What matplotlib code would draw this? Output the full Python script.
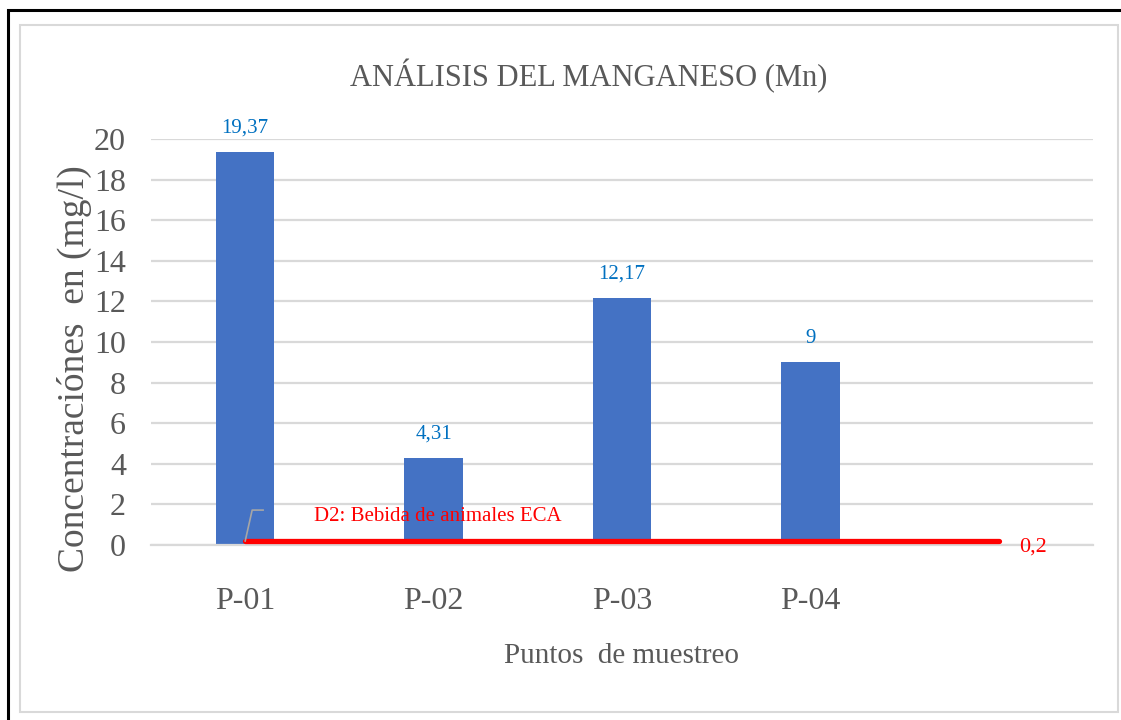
import numpy as np
import matplotlib.pyplot as plt
from matplotlib.patches import Rectangle

plt.rcParams['font.family'] = ['Liberation Serif', 'DejaVu Serif']

categorias = ['P-01', 'P-02', 'P-03', 'P-04', '']
valores = [19.37, 4.31, 12.17, 9.0, np.nan]
etiquetas = ['19,37', '4,31', '12,17', '9', '']
eca_valor = 0.2
eca_texto = 'D2: Bebida de animales ECA'
eca_etiqueta = '0,2'

gris = '#595959'
azul_barra = '#4472C4'
azul_texto = '#0070C0'
rojo = '#FF0000'

fig = plt.figure(figsize=(11.21, 7.2), dpi=100)
ax = fig.add_axes([151/1121, 175/720, 942/1121, 406/720])

# bordes del grafico (marco negro y marco gris interior)
fig.add_artist(Rectangle((8/1121, -0.05), 1.2, 1 - 10/720 + 0.05, transform=fig.transFigure,
                         fill=False, ec='black', lw=2.2))
fig.add_artist(Rectangle((20/1121, 8/720), 1098/1121, 687/720, transform=fig.transFigure,
                         fill=False, ec='#D9D9D9', lw=1.5))

x = np.arange(len(categorias))
ax.bar(x, valores, width=0.31, color=azul_barra, zorder=2)
for xi, v, t in zip(x, valores, etiquetas):
    if t:
        ax.text(xi, v + 0.7, t, ha='center', va='bottom', color=azul_texto, fontsize=15)

# linea ECA
ax.plot([x[0], x[-1]], [eca_valor, eca_valor], color=rojo, lw=3.8,
        solid_capstyle='round', zorder=3)
ax.plot([0, 0.037, 0.095], [eca_valor, 1.72, 1.72], color='#A6A6A6', lw=1.2, zorder=3)
ax.text(1.02, 1.4, eca_texto, color=rojo, fontsize=15, ha='center', va='center')
ax.text(x[-1] + 0.11, eca_valor - 0.3, eca_etiqueta, color=rojo, fontsize=16,
        ha='left', va='center')

ax.set_xlim(-0.5, len(categorias) - 0.5)
ax.set_ylim(0, 20)
ax.set_yticks(np.arange(0, 21, 2))
ax.set_xticks(x)
ax.set_xticklabels(categorias)
ax.tick_params(axis='both', length=0, colors=gris, labelsize=23)
ax.tick_params(axis='x', pad=30)
ax.tick_params(axis='y', pad=18)
ax.grid(axis='y', color='#D9D9D9', lw=1.6, zorder=0)
ax.set_axisbelow(True)
for s in ['top', 'right', 'left']:
    ax.spines[s].set_visible(False)
ax.spines['bottom'].set_color('#D9D9D9')
ax.spines['bottom'].set_linewidth(1.6)

fig.text(589/1121, 1 - 76/720, 'ANÁLISIS DEL MANGANESO (Mn)', color=gris, fontsize=22,
         ha='center', va='center')
ax.set_xlabel('Puntos  de muestreo', color=gris, fontsize=21, labelpad=20)
ax.set_ylabel('Concentraciónes  en (mg/l)', color=gris, fontsize=27)
ax.yaxis.set_label_coords((92 - 151) / 942, (545 - 369) / 406)

fig.savefig('out.png', dpi=100)
